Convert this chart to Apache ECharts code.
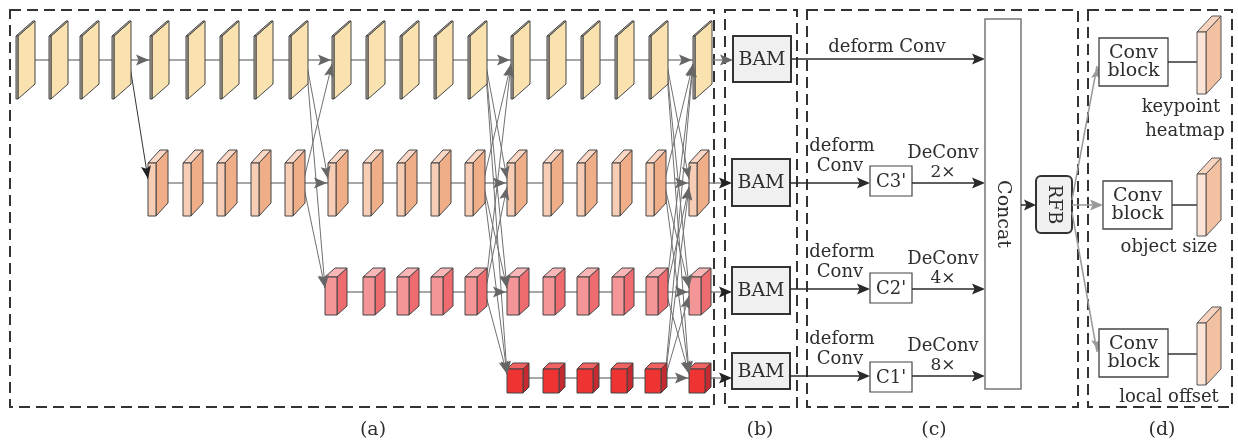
<!DOCTYPE html>
<html><head><meta charset="utf-8">
<script src="https://cdn.jsdelivr.net/npm/echarts@6/dist/echarts.min.js"></script>
<style>html,body{margin:0;padding:0;background:#fff}#c{width:1238px;height:441px}</style>
</head><body><div id="c"></div>
<script>
// ---------------- data ----------------
const panelLabels = ['(a)', '(b)', '(c)', '(d)'];
// block positions along each resolution row (diagram x units)
const row1Blocks = [16, 49, 80, 112, 150, 186, 220, 254, 289, 332, 366, 400, 434, 468, 511, 547, 581, 615, 649, 693];
const row2Blocks = [148, 183, 217, 251, 285, 328, 363, 397, 431, 465, 507, 543, 577, 612, 646, 689];
const row3Blocks = [325, 363, 397, 431, 465, 507, 543, 577, 612, 646, 689];
const row4Blocks = [507, 543, 577, 611, 645, 689];
// index of the first block of each new stage, per row
const stageStart = [[4, 9, 14, 19], [5, 10, 15], [5, 10], [5]];
// fusion steps: source block index per existing row, target block index per row
const fusionSrc = [[3], [8, 4], [13, 9, 4], [18, 14, 9, 4]];
const fusionTgt = [[4, 0], [9, 5, 0], [14, 10, 5, 0], [19, 15, 10, 5]];
const bamLabels = ['BAM', 'BAM', 'BAM', 'BAM'];
const topBranchLabel = 'deform Conv';
const branchLabels = [['deform', 'Conv'], ['deform', 'Conv'], ['deform', 'Conv']];
const cLabels = ["C3'", "C2'", "C1'"];
const deconvLabels = [['DeConv', '2×'], ['DeConv', '4×'], ['DeConv', '8×']];
const concatLabel = 'Concat';
const rfbLabel = 'RFB';
const convLabels = [['Conv', 'block'], ['Conv', 'block'], ['Conv', 'block']];
const headLabels = [['keypoint', 'heatmap'], ['object size'], ['local offset']];

// ---------------- layout & style ----------------
const rows = [row1Blocks, row2Blocks, row3Blocks, row4Blocks];
const rowY = [60, 183, 292, 378];
const geo = [
  {top: 36, h: 63, w: 2, dx: 17, dy: 15, front: '#BDB5A8', side: '#F9E2B0', topc: '#C9C0B0'},
  {top: 163, h: 53, w: 8, dx: 12, dy: 13, front: '#F8CDB5', side: '#EFAE88', topc: '#FAD8C5'},
  {top: 277, h: 38, w: 12, dx: 10, dy: 9, front: '#F49697', side: '#EE6B70', topc: '#F8B6B6'},
  {top: 369, h: 24, w: 16, dx: 6, dy: 6, front: '#EE3333', side: '#C42A2F', topc: '#F26262'}
];
const FONT = '"DejaVu Serif", serif';
const TXT = '#2e2e2e';
const panels = [[10, 714], [725, 797], [807, 1078], [1088, 1232]];
const panelLabelX = [373, 760, 934, 1162];
const bamBox = [[733, 791, 36, 82], [732, 790, 159, 206], [732, 790, 267, 314], [732, 790, 353, 389]];
const branchY = [183, 289, 376];
const cBox = [870, 912];
const cBoxY = [[166, 196], [273, 303], [362, 392]];
const concatBox = [985, 1021, 19, 389];
const rfbBox = [1036, 1072, 176, 233];
const convBox = [[1099, 1168, 38, 86], [1103, 1172, 181, 229], [1099, 1168, 329, 377]];
const headLineY = [62, 205, 354];
const slabTop = [32, 174, 323];

const chart = echarts.init(document.getElementById('c'), null, {renderer: 'canvas'});

function P(api, x, y) { return api.coord([x, y]); }
function arrowHead(api, sx, sy, tx, ty, color, L, hw) {
  const a = P(api, sx, sy), b = P(api, tx, ty);
  let ux = b[0] - a[0], uy = b[1] - a[1];
  const len = Math.hypot(ux, uy) || 1; ux /= len; uy /= len;
  const nx = -uy, ny = ux;
  return {type: 'polygon', shape: {points: [
    [b[0], b[1]],
    [b[0] - L * ux + hw * nx, b[1] - L * uy + hw * ny],
    [b[0] - 0.8 * L * ux, b[1] - 0.8 * L * uy],
    [b[0] - L * ux - hw * nx, b[1] - L * uy - hw * ny]
  ]}, style: {fill: color}};
}
function seg(api, x1, y1, x2, y2, color, lw) {
  const a = P(api, x1, y1), b = P(api, x2, y2);
  return {type: 'line', shape: {x1: a[0], y1: a[1], x2: b[0], y2: b[1]}, style: {stroke: color, lineWidth: lw}};
}
function text(api, s, x, y, size, rot) {
  const a = P(api, x, y);
  return {type: 'text', x: a[0], y: a[1], rotation: rot || 0,
    style: {text: s, fill: TXT, font: size + 'px ' + FONT, align: 'center', verticalAlign: 'middle'}};
}
function rect(api, x0, x1, y0, y1, fill, stroke, lw, r) {
  const a = P(api, x0, y0), b = P(api, x1, y1);
  return {type: 'rect', shape: {x: a[0], y: a[1], width: b[0] - a[0], height: b[1] - a[1], r: r || 0},
    style: {fill: fill, stroke: stroke, lineWidth: lw}};
}
function cube(api, x, g, stroke) {
  const x0 = x, x1 = x + g.w, y0 = g.top, y1 = g.top + g.h;
  const pts = arr => arr.map(q => P(api, q[0], q[1]));
  const st = {stroke: stroke, lineWidth: 1, lineJoin: 'round'};
  return [
    {type: 'polygon', shape: {points: pts([[x1, y0], [x1 + g.dx, y0 - g.dy], [x1 + g.dx, y1 - g.dy], [x1, y1]])}, style: Object.assign({fill: g.side}, st)},
    {type: 'polygon', shape: {points: pts([[x0, y0], [x0 + g.dx, y0 - g.dy], [x1 + g.dx, y0 - g.dy], [x1, y0]])}, style: Object.assign({fill: g.topc}, st)},
    {type: 'polygon', shape: {points: pts([[x0, y0], [x1, y0], [x1, y1], [x0, y1]])}, style: Object.assign({fill: g.front}, st)}
  ];
}

// fusion connection list built from the data arrays
const fusionLinks = [];
fusionSrc.forEach((src, s) => {
  src.forEach((si, r) => {
    fusionTgt[s].forEach((ti, t) => {
      if (t === r) return;
      const g = geo[r];
      fusionLinks.push([s, r, si, t, ti]);
    });
  });
});
function linkPts(l) {
  const [s, r, si, t, ti] = l;
  const g = geo[r];
  const sx = rows[r][si] + g.w + g.dx - 2, sy = rowY[r];
  const tx = rows[t][ti], ty = rowY[t] + (rowY[r] > rowY[t] ? 4 : -4);
  return [sx, sy, tx, ty];
}

const blockData = [];
rows.forEach((arr, r) => arr.forEach((x, i) => blockData.push([r, i])));
const stageArrowData = [];
stageStart.forEach((arr, r) => arr.forEach(i => stageArrowData.push([r, i])));

const series = [
  { // dashed panels
    type: 'custom', coordinateSystem: 'cartesian2d', z: 1, silent: true,
    data: panelLabels.map((s, i) => [i, 0]),
    renderItem: (p, api) => {
      const i = api.value(0);
      const r = rect(api, panels[i][0], panels[i][1], 10, 407, 'none', '#333', 2);
      r.style.lineDash = [11, 6];
      return {type: 'group', children: [r, text(api, panelLabels[i], panelLabelX[i], 430, 19)]};
    }
  },
  { // row lines
    type: 'custom', coordinateSystem: 'cartesian2d', z: 2, silent: true,
    data: rows.map((a, r) => [r, 0]),
    renderItem: (p, api) => {
      const r = api.value(0);
      const g = geo[r];
      const x0 = rows[r][0] + g.w + 4;
      return {type: 'group', children: [
        seg(api, x0, rowY[r], bamBox[r][0] - 2, rowY[r], '#8a8a8a', 1.5),
        arrowHead(api, bamBox[r][0] - 20, rowY[r], bamBox[r][0], rowY[r], r === 0 ? '#666' : '#222', 13, 5.5)
      ]};
    }
  },
  { // fusion lines
    type: 'custom', coordinateSystem: 'cartesian2d', z: 3, silent: true,
    data: fusionLinks.map((l, i) => [i, 0]),
    renderItem: (p, api) => {
      const l = fusionLinks[api.value(0)];
      const q = linkPts(l);
      const dark = l[0] === 0;
      return seg(api, q[0], q[1], q[2], q[3], dark ? '#333' : '#707070', 1);
    }
  },
  { // blocks
    type: 'custom', coordinateSystem: 'cartesian2d', z: 4, silent: true,
    data: blockData,
    renderItem: (p, api) => {
      const r = api.value(0), i = api.value(1);
      return {type: 'group', children: cube(api, rows[r][i], geo[r], '#444')};
    }
  },
  { // arrowheads on fusion lines + stage arrows
    type: 'custom', coordinateSystem: 'cartesian2d', z: 5, silent: true,
    data: fusionLinks.map((l, i) => [i, 0]),
    renderItem: (p, api) => {
      const l = fusionLinks[api.value(0)];
      const q = linkPts(l);
      const dark = l[0] === 0;
      return arrowHead(api, q[0], q[1], q[2], q[3], dark ? '#222' : '#666', 13, 5);
    }
  },
  {
    type: 'custom', coordinateSystem: 'cartesian2d', z: 5, silent: true,
    data: stageArrowData,
    renderItem: (p, api) => {
      const r = api.value(0), i = api.value(1);
      const tx = rows[r][i] - 1;
      return arrowHead(api, tx - 20, rowY[r], tx, rowY[r], '#666', 13, 5.5);
    }
  },
  { // BAM boxes
    type: 'custom', coordinateSystem: 'cartesian2d', z: 6, silent: true,
    data: bamLabels.map((s, i) => [i, 0]),
    renderItem: (p, api) => {
      const i = api.value(0), b = bamBox[i];
      return {type: 'group', children: [
        rect(api, b[0], b[1], b[2], b[3], '#F0F0F0', '#333', 2),
        text(api, bamLabels[i], (b[0] + b[1]) / 2, (b[2] + b[3]) / 2 + 1, 19)
      ]};
    }
  },
  { // panel (c): branches
    type: 'custom', coordinateSystem: 'cartesian2d', z: 6, silent: true,
    data: [[0, 0], [1, 0], [2, 0], [3, 0]],
    renderItem: (p, api) => {
      const i = api.value(0);
      const C = '#2a2a2a';
      if (i === 0) {
        const y = 59;
        return {type: 'group', children: [
          seg(api, bamBox[0][1], y, concatBox[0] - 4, y, C, 1.5),
          arrowHead(api, 900, y, concatBox[0], y, C, 13, 5.5),
          text(api, topBranchLabel, 887, 47, 18)
        ]};
      }
      const k = i - 1, y = branchY[k];
      return {type: 'group', children: [
        seg(api, bamBox[i][1], y, cBox[0] - 4, y, C, 1.5),
        arrowHead(api, 820, y, cBox[0], y, C, 13, 5.5),
        rect(api, cBox[0], cBox[1], cBoxY[k][0], cBoxY[k][1], '#fff', '#444', 1.2),
        text(api, cLabels[k], (cBox[0] + cBox[1]) / 2, (cBoxY[k][0] + cBoxY[k][1]) / 2 + 1, 18),
        seg(api, cBox[1], y, concatBox[0] - 4, y, C, 1.5),
        arrowHead(api, 950, y, concatBox[0], y, C, 13, 5.5),
        text(api, branchLabels[k][0], 842, y - 37, 18),
        text(api, branchLabels[k][1], 840, y - 17, 18),
        text(api, deconvLabels[k][0], 943, y - 30, 18),
        text(api, deconvLabels[k][1], 943, y - 10, 17)
      ]};
    }
  },
  { // concat + RFB
    type: 'custom', coordinateSystem: 'cartesian2d', z: 6, silent: true,
    data: [[0, 0]],
    renderItem: (p, api) => {
      const c = concatBox, r = rfbBox;
      return {type: 'group', children: [
        rect(api, c[0], c[1], c[2], c[3], '#fff', '#777', 1.5),
        text(api, concatLabel, (c[0] + c[1]) / 2, 214, 19, -Math.PI / 2),
        seg(api, c[1], 205, r[0] - 4, 205, '#2a2a2a', 1.5),
        arrowHead(api, c[1], 205, r[0], 205, '#2a2a2a', 12, 5.5),
        rect(api, r[0], r[1], r[2], r[3], '#F0F0F0', '#333', 2, 5),
        text(api, rfbLabel, (r[0] + r[1]) / 2, (r[2] + r[3]) / 2, 18, -Math.PI / 2)
      ]};
    }
  },
  { // heads
    type: 'custom', coordinateSystem: 'cartesian2d', z: 6, silent: true,
    data: headLabels.map((s, i) => [i, 0]),
    renderItem: (p, api) => {
      const i = api.value(0), b = convBox[i];
      const G = '#9a9a9a';
      const cy = (b[2] + b[3]) / 2;
      const srcY = [200, 205, 212][i];
      const tgtY = [66, 205, 352][i];
      const slab = {top: slabTop[i], h: 62, w: 9, dx: 15, dy: 16, front: '#FBE3D6', side: '#F2C1A2', topc: '#F8D4BF'};
      const ch = [
        seg(api, rfbBox[1], srcY, b[0] - 2, tgtY, G, 1.5),
        arrowHead(api, rfbBox[1], srcY, b[0], tgtY, G, 13, 5.5),
        rect(api, b[0], b[1], b[2], b[3], '#fff', '#444', 1.3),
        text(api, convLabels[i][0], (b[0] + b[1]) / 2, cy - 9, 19),
        text(api, convLabels[i][1], (b[0] + b[1]) / 2, cy + 9, 19),
        seg(api, b[1], headLineY[i], 1197, headLineY[i], '#333', 1.5)
      ].concat(cube(api, 1197, slab, '#555'));
      if (i === 0) {
        ch.push(text(api, headLabels[0][0], 1181, 107, 18));
        ch.push(text(api, headLabels[0][1], 1185, 131, 18));
      } else {
        ch.push(text(api, headLabels[i][0], 1169, i === 1 ? 247 : 397, 18));
      }
      return {type: 'group', children: ch};
    }
  }
];

chart.setOption({
  animation: false,
  grid: {left: 0, right: 0, top: 0, bottom: 0},
  xAxis: {type: 'value', min: 0, max: 1238, show: false},
  yAxis: {type: 'value', min: 0, max: 441, inverse: true, show: false},
  series: series
});
</script></body></html>
